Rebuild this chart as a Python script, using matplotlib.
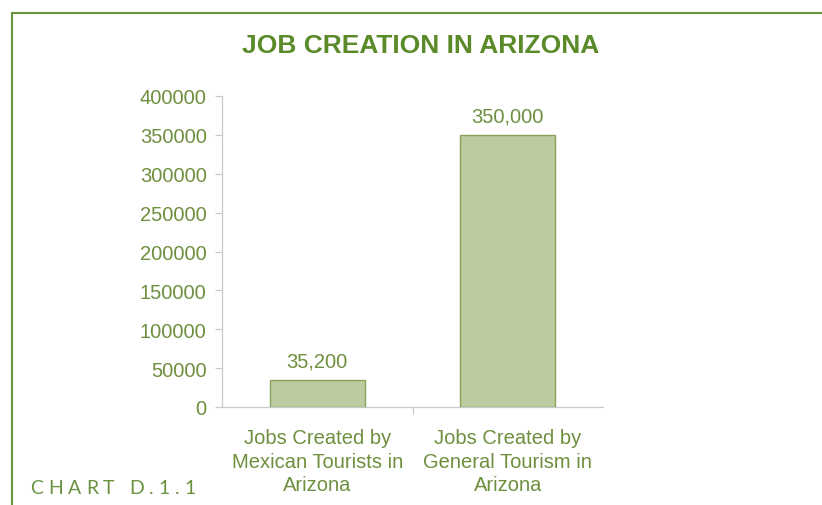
import matplotlib
matplotlib.use("Agg")
import matplotlib.pyplot as plt
from matplotlib.lines import Line2D

categories = ["Jobs Created by\nMexican Tourists in\nArizona",
              "Jobs Created by\nGeneral Tourism in\nArizona"]
jobs = [35200, 350000]
value_labels = ["35,200", "350,000"]
yticks = [0, 50000, 100000, 150000, 200000, 250000, 300000, 350000, 400000]
chart_id = "CHART D.1.1"

W, H = 822, 506
fig = plt.figure(figsize=(W / 100, H / 100), dpi=100)
fig.patch.set_facecolor("white")

text_green = "#6e8f3e"
title_green = "#5b8a29"
frame_green = "#6a9340"
bar_fill = "#bccc9f"
bar_edge = "#88a25e"
axis_grey = "#c8c8c8"

# page frame: top rule and left rule meeting in a corner
fx, fy = 11.5 / W, 1 - 13.5 / H
fig.add_artist(Line2D([fx, 1.0], [fy, fy], color=frame_green, lw=1.5,
                      transform=fig.transFigure, solid_capstyle="butt"))
fig.add_artist(Line2D([fx, fx], [0, fy], color=frame_green, lw=1.5,
                      transform=fig.transFigure, solid_capstyle="projecting"))

ax = fig.add_axes([222 / W, 1 - 408 / H, (603 - 222) / W, (408 - 97) / H])
x = list(range(len(categories)))
ax.bar(x, jobs, width=0.5, color=bar_fill, edgecolor=bar_edge, linewidth=1.0, zorder=3)
ax.set_xlim(-0.5, 1.5)
ax.set_ylim(0, 400000)
ax.set_yticks(yticks)
ax.set_yticklabels([str(v) for v in yticks], color=text_green, fontsize=14.5,
                   family="Liberation Sans")
ax.set_xticks(x)
ax.set_xticklabels(categories, color=text_green, fontsize=14.5, family="Liberation Sans",
                   linespacing=1.32)
ax.tick_params(axis="x", length=0, pad=15)
ax.tick_params(axis="y", length=5, width=0.8, color=axis_grey, pad=6)
# boundary tick between categories
ax.set_xticks([0.5], minor=True)
ax.tick_params(axis="x", which="minor", length=5, width=0.8, color=axis_grey)
for s in ["top", "right"]:
    ax.spines[s].set_visible(False)
for s in ["left", "bottom"]:
    ax.spines[s].set_color(axis_grey)
    ax.spines[s].set_linewidth(0.9)

for xi, v, lab in zip(x, jobs, value_labels):
    ax.text(xi, v + 12000, lab, ha="center", va="bottom", color=text_green, fontsize=14.5,
            family="Liberation Sans")

fig.text(421 / W, 1 - 46 / H, "JOB CREATION IN ARIZONA", ha="center", va="center",
         color=title_green, fontsize=19, fontweight="bold",
         family=["Liberation Sans Narrow", "Liberation Sans"])

# letter-spaced chart number in the lower-left corner
renderer = fig.canvas.get_renderer()
cx = 30.0
tracking = 5.0
for ch in chart_id:
    t = fig.text(cx / W, 1 - 489 / H, ch, ha="left", va="center",
                 color=frame_green, fontsize=14, family="Lato")
    w = t.get_window_extent(renderer).width if ch != " " else 5.0
    cx += w + tracking

fig.savefig("out.png", dpi=100, facecolor="white")
